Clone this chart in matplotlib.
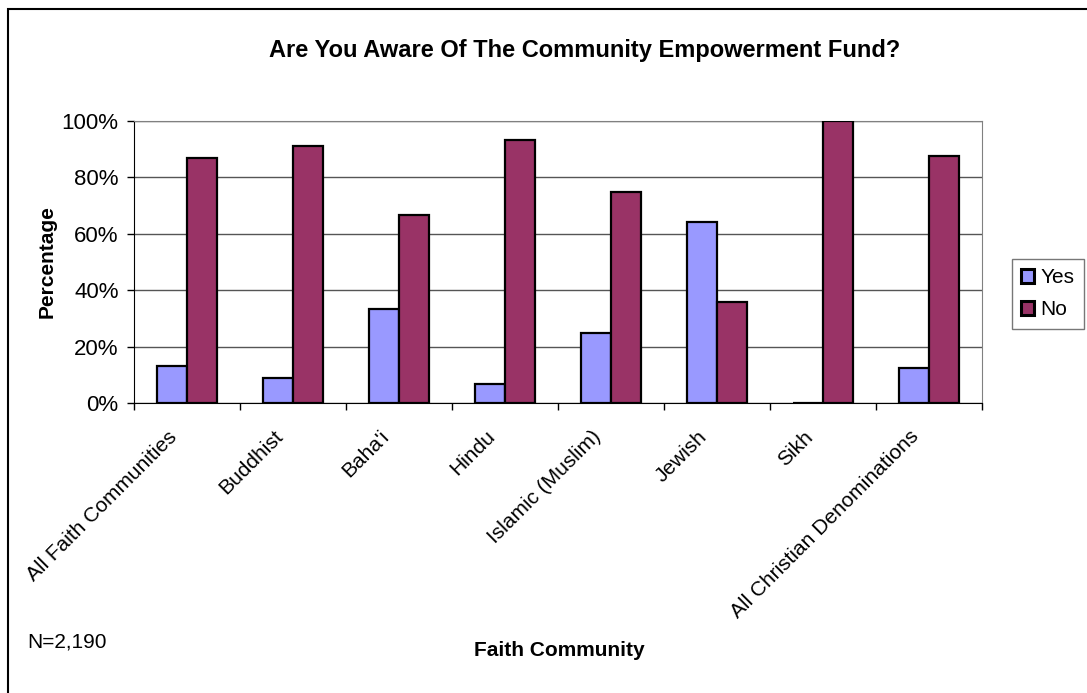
import numpy as np
import matplotlib.pyplot as plt
from matplotlib.patches import Rectangle
from matplotlib.ticker import FuncFormatter, FixedLocator, NullFormatter
from matplotlib.transforms import ScaledTranslation

plt.rcParams['font.family'] = ['Liberation Sans', 'DejaVu Sans']

communities = ['All Faith Communities', 'Buddhist', "Baha'i", 'Hindu',
               'Islamic (Muslim)', 'Jewish', 'Sikh', 'All Christian Denominations']
yes_pct = [13, 9, 33.3, 6.7, 25, 64.2, 0, 12.3]
no_pct = [87, 91, 66.7, 93.3, 75, 35.8, 100, 87.7]

fig = plt.figure(figsize=(10.87, 6.93), dpi=100)
W, H = 1087, 693
ax = fig.add_axes([134 / W, 1 - 403 / H, (982 - 134) / W, (403 - 121) / H])

# chart border (only top and left edges fall inside the image)
fig.patches.append(Rectangle((8 / W, -0.1), 1.2, 1 - 9 / H + 0.1,
                             transform=fig.transFigure, fill=False,
                             edgecolor='black', linewidth=1.5))

x = np.arange(len(communities))
w = 0.285
ax.bar(x - w / 2, yes_pct, w, color='#9999FF', edgecolor='black',
       linewidth=1.6, label='Yes', zorder=3)
ax.bar(x + w / 2, no_pct, w, color='#993366', edgecolor='black',
       linewidth=1.6, label='No', zorder=3)

ax.set_xlim(-0.5, len(communities) - 0.5)
ax.set_ylim(0, 100)
ax.set_yticks(np.arange(0, 101, 20))
ax.yaxis.set_major_formatter(FuncFormatter(lambda v, p: f'{v:.0f}%'))
ax.yaxis.grid(True, color='#555555', linewidth=1)
ax.set_axisbelow(True)

# category names, slanted, hanging below each group
ax.set_xticks([])
ax.xaxis.set_minor_locator(FixedLocator(np.arange(-0.5, len(communities), 1)))
ax.xaxis.set_minor_formatter(NullFormatter())
ax.tick_params(axis='x', which='minor', length=5, width=1, direction='out')
offset = ScaledTranslation(-6 / 100, -24 / 100, fig.dpi_scale_trans)
for xi, name in zip(x, communities):
    ax.text(xi, 0, name, transform=ax.get_xaxis_transform() + offset,
            rotation=45, ha='right', va='top', fontsize=15)

ax.tick_params(axis='y', length=5, width=1, direction='out', labelsize=16,
               pad=6)

for side in ['top', 'right']:
    ax.spines[side].set_color('#808080')
for side in ['left', 'bottom']:
    ax.spines[side].set_color('black')

ax.set_ylabel('Percentage', fontsize=15, fontweight='bold', labelpad=4)
fig.text(559 / W, 1 - 650 / H, 'Faith Community', fontsize=15,
         fontweight='bold', ha='center', va='center')
fig.text(27 / W, 1 - 642 / H, 'N=2,190', fontsize=15, ha='left', va='center')
fig.text(585 / W, 1 - 50 / H, 'Are You Aware Of The Community Empowerment Fund?',
         fontsize=17, fontweight='bold', ha='center', va='center')

leg = fig.legend(loc='upper left', bbox_to_anchor=(1012 / W, 1 - 259 / H),
                 frameon=True, fancybox=False, fontsize=15, handlelength=0.6,
                 handleheight=0.6, handletextpad=0.3, borderpad=0.45,
                 labelspacing=0.62, borderaxespad=0)
leg.get_frame().set_edgecolor('#555555')
leg.get_frame().set_linewidth(1)
for h in leg.legend_handles:
    h.set_linewidth(2.2)

fig.savefig('out.png', dpi=100)
